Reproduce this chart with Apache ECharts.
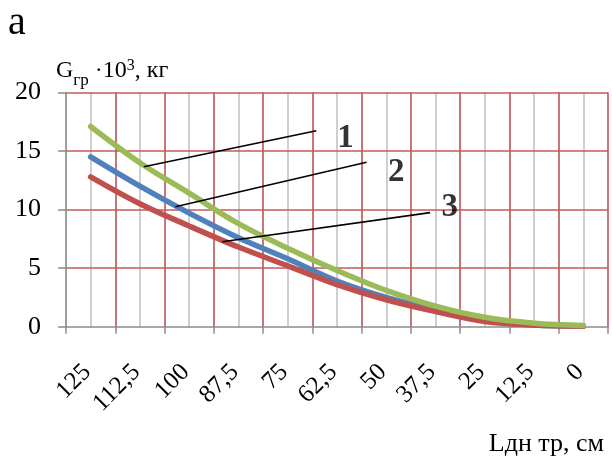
<!DOCTYPE html>
<html>
<head>
<meta charset="utf-8">
<script src="https://cdn.jsdelivr.net/npm/echarts@6/dist/echarts.min.js"></script>
<style>
  html, body { margin: 0; padding: 0; background: #fff; }
  #chart { width: 612px; height: 457px; }
</style>
</head>
<body>
<div id="chart"></div>
<script>
// Pipe length, cm (category axis)
const lengths = ['125', '112,5', '100', '87,5', '75', '62,5', '50', '37,5', '25', '12,5', '0'];
// Load G, ×10³ kg
const curve1 = [17.1, 14.0, 11.4, 8.8, 6.7, 4.8, 3.1, 1.75, 0.8, 0.3, 0.1];
const curve2 = [14.5, 12.0, 9.7, 7.6, 5.8, 3.9, 2.5, 1.45, 0.55, 0.15, 0.05];
const curve3 = [12.8, 10.5, 8.6, 6.8, 5.2, 3.6, 2.3, 1.3, 0.45, 0.15, 0.05];
const yTicks = [0, 5, 10, 15, 20];

// Leader lines for the curve numbers, in (category index, value) units
const leaderNames = ['1', '2', '3'];
const leaderStart = [[1.08, 13.66], [1.72, 10.25], [2.67, 7.26]];
const leaderEnd = [[4.58, 16.74], [5.60, 14.04], [6.89, 9.74]];
const leaderText = [[5.17, 16.1], [6.20, 13.2], [7.29, 10.14]];

const FONT = '"Liberation Serif", "Times New Roman", serif';
const RED_GRID = '#C9575A';
const GRAY_GRID = '#BFBFBF';
const AXIS_GRAY = '#8C8C8C';

const chart = echarts.init(document.getElementById('chart'), null, { renderer: 'canvas' });

const curveSeries = [
  { name: '2', data: curve2, color: '#4F81BD' },
  { name: '3', data: curve3, color: '#C0504D' },
  { name: '1', data: curve1, color: '#9BBB59' }
].map(s => ({
  name: s.name,
  type: 'line',
  xAxisIndex: 0,
  yAxisIndex: 0,
  data: s.data,
  smooth: 0.35,
  symbol: 'none',
  lineStyle: { color: s.color, width: 5.5, cap: 'round' },
  z: 3
}));

const leaderSeries = leaderNames.map((n, i) => ({
  name: 'leader' + n,
  type: 'line',
  xAxisIndex: 1,
  yAxisIndex: 0,
  data: [leaderStart[i], leaderEnd[i]],
  symbol: 'none',
  lineStyle: { color: '#000', width: 1.6 },
  z: 4
}));

const labelSeries = {
  name: 'numbers',
  type: 'scatter',
  xAxisIndex: 1,
  yAxisIndex: 0,
  symbolSize: 0,
  data: leaderText.map((p, i) => ({ value: p, name: leaderNames[i] })),
  label: {
    show: true,
    position: 'inside',
    formatter: p => p.name,
    fontFamily: FONT,
    fontWeight: 'bold',
    fontSize: 33,
    color: '#000'
  },
  z: 5
};

const txt = (size, extra) => Object.assign({
  fontFamily: FONT, fontSize: size, fontWeight: 'normal', color: '#000',
  verticalAlign: 'bottom', lineHeight: 28
}, extra || {});

chart.setOption({
  animation: false,
  backgroundColor: '#fff',
  title: [
    {
      text: 'a',
      left: 3,
      top: -2,
      textStyle: { fontFamily: FONT, fontSize: 40, fontWeight: 'normal', color: '#000' }
    },
    {
      text: '{m|G}{s|гр}{m| ·10}{p|3}{m|, кг}',
      left: 51,
      top: 50,
      textStyle: {
        fontWeight: 'normal',
        rich: {
          m: txt(24),
          s: txt(17, { padding: [0, 0, -6, 0] }),
          p: txt(16, { padding: [0, 0, 9, 0] })
        }
      }
    },
    {
      text: 'Lдн тр, см',
      right: 3,
      top: 426,
      textStyle: { fontFamily: FONT, fontSize: 26, fontWeight: 'normal', color: '#000' }
    }
  ],
  grid: { left: 66, right: 4, top: 92.5, bottom: 130.3, containLabel: false },
  xAxis: [
    {
      type: 'category',
      data: lengths,
      boundaryGap: true,
      z: 1,
      axisLine: { show: true, onZero: false, lineStyle: { color: AXIS_GRAY, width: 1.5 } },
      axisTick: { show: true, interval: 0, length: 7, lineStyle: { color: AXIS_GRAY, width: 1.5 } },
      axisLabel: {
        interval: 0,
        rotate: 45,
        margin: 38,
        padding: [0, 5, 0, 0],
        fontFamily: FONT,
        fontSize: 25,
        color: '#000'
      },
      splitLine: { show: true, interval: 0, showMinLine: false, lineStyle: { color: RED_GRID, width: 1.5 } }
    },
    {
      // helper axis in category-index units: half-step grid + leader lines
      type: 'value',
      position: 'top',
      min: -0.5,
      max: 10.5,
      interval: 0.5,
      z: 0,
      axisLine: { show: false, onZero: false },
      axisTick: { show: false },
      axisLabel: { show: false },
      splitLine: { show: true, lineStyle: { color: GRAY_GRID, width: 1.5 } }
    }
  ],
  yAxis: {
    type: 'value',
    min: yTicks[0],
    max: yTicks[yTicks.length - 1],
    interval: yTicks[1] - yTicks[0],
    z: 1,
    axisLine: { show: true, onZero: false, lineStyle: { color: AXIS_GRAY, width: 1.5 } },
    axisTick: { show: true, length: 8, lineStyle: { color: AXIS_GRAY, width: 1.5 } },
    axisLabel: { margin: 25, fontFamily: FONT, fontSize: 26, color: '#000' },
    splitLine: { show: true, showMinLine: false, lineStyle: { color: RED_GRID, width: 1.5 } }
  },
  series: [...curveSeries, ...leaderSeries, labelSeries]
});
</script>
</body>
</html>
